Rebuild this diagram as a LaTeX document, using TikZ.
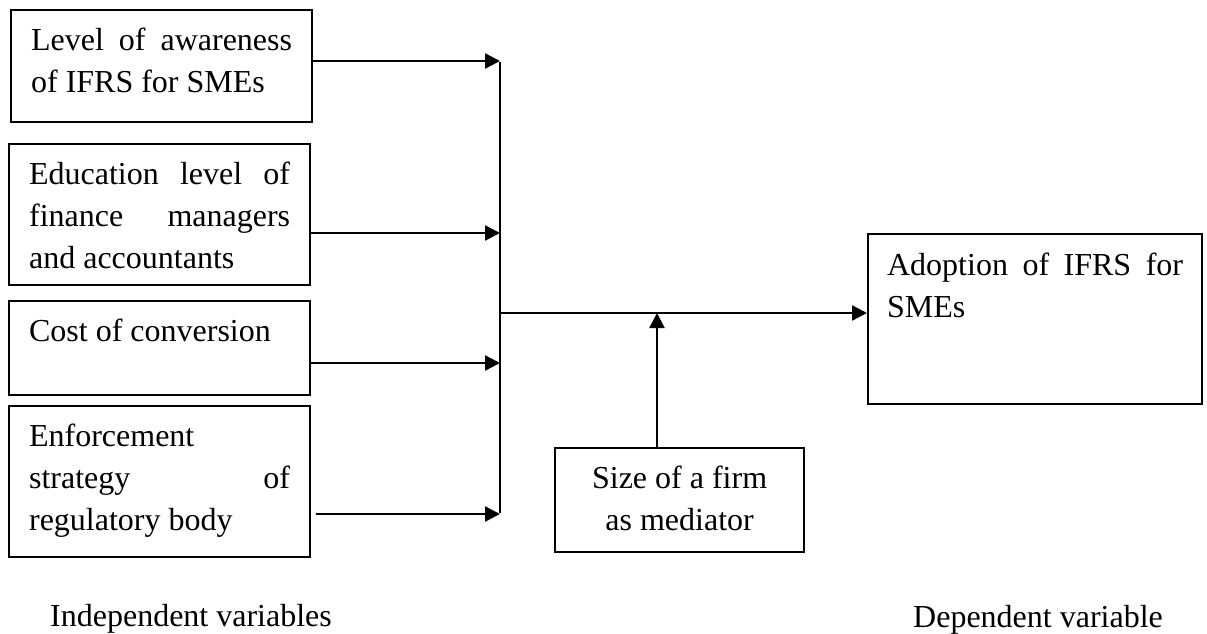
\documentclass[tikz,border=0pt]{standalone}
\usepackage{fontspec}
\setmainfont{Liberation Serif}
\usetikzlibrary{arrows.meta}
\newcommand{\jline}[1]{\makebox[\linewidth][s]{#1}}
\newcommand{\firstl}{\rule{0pt}{40pt}}
\begin{document}
\begin{tikzpicture}[x=1pt,y=-1pt,
  box/.style={draw, line width=2.2pt, anchor=north west, inner ysep=0pt, inner xsep=20pt, font=\fontsize{32}{42}\selectfont},
  lbl/.style={anchor=base west, inner sep=0pt, font=\fontsize{32}{42}\selectfont},
  conn/.style={line width=2.4pt},
  arr/.style={line width=2.4pt, -{Triangle[length=15pt,width=15pt]}}]
\useasboundingbox (0,0) rectangle (1207,633);
% independent variable boxes
\node[box] (B1) at (10,9) {\parbox[t][112pt][t]{261pt}{\firstl\jline{Level of awareness}\\of IFRS for SMEs}};
\node[box] (B2) at (8,143) {\parbox[t][141pt][t]{261pt}{\firstl\jline{Education level of}\\\jline{finance managers}\\and accountants}};
\node[box] (B3) at (8,300) {\parbox[t][94pt][t]{261pt}{\firstl Cost of conversion}};
\node[box] (B4) at (8,405) {\parbox[t][151pt][t]{261pt}{\firstl Enforcement\\\jline{strategy of}\\regulatory body}};
% dependent variable box
\node[box, inner xsep=19pt] (R) at (867,233) {\parbox[t][170pt][t]{296pt}{\rule{0pt}{41pt}\jline{Adoption of IFRS for}\\SMEs}};
% mediator
\node[box] (M) at (554,447) {\parbox[t][104pt][t]{209pt}{\centering\firstl Size of a firm\\as mediator}};
% labels
\node[lbl] (L1) at (50,626) {Independent variables};
\node[lbl] (L2) at (913,627) {Dependent variable};
% junction coordinates
\coordinate (j1) at (500,61);
\coordinate (j2) at (500,233);
\coordinate (j3) at (500,363);
\coordinate (j4) at (500,514);
\coordinate (jm) at (500,313);
\coordinate (jv) at (657,313);
% connectors
\draw[arr] (j1 -| B1.east) -- (j1);
\draw[arr] (j2 -| B2.east) -- (j2);
\draw[arr] (j3 -| B3.east) -- (j3);
\draw[arr] ([xshift=5pt]j4 -| B4.east) -- (j4);
\draw[conn] ([yshift=-1pt]j1) -- ([yshift=1pt]j4);
\draw[arr] (jm) -- (jm -| R.west);
\draw[arr] (jv |- M.north) -- (jv);
\end{tikzpicture}
\end{document}
